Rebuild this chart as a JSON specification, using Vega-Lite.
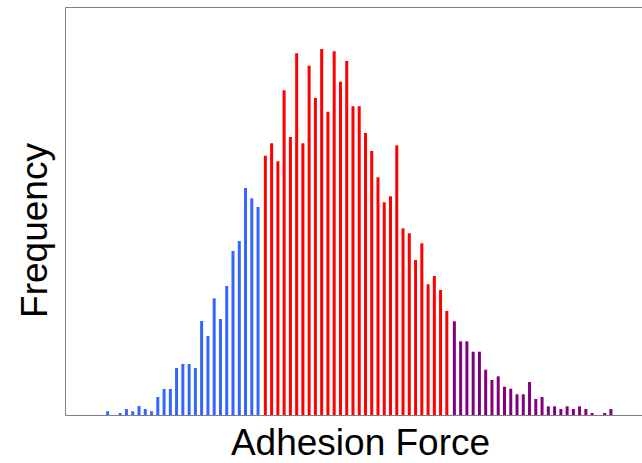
{
  "$schema": "https://vega.github.io/schema/vega-lite/v6.json",
  "autosize": "none",
  "padding": {"left": 65, "top": 7, "right": 0, "bottom": 48},
  "width": 590,
  "height": 408,
  "background": "white",
  "config": {
    "view": {"stroke": "#808080", "strokeWidth": 1},
    "font": "Liberation Sans"
  },
  "data": {
    "values": [
      {"force": 6.49, "freq": 3.7, "group": "low"},
      {"force": 7.58, "freq": 0, "group": "low"},
      {"force": 8.65, "freq": 2, "group": "low"},
      {"force": 9.73, "freq": 6, "group": "low"},
      {"force": 10.81, "freq": 3.7, "group": "low"},
      {"force": 11.90, "freq": 9, "group": "low"},
      {"force": 12.97, "freq": 6, "group": "low"},
      {"force": 14.05, "freq": 3.7, "group": "low"},
      {"force": 15.14, "freq": 18, "group": "low"},
      {"force": 16.22, "freq": 26, "group": "low"},
      {"force": 17.30, "freq": 26, "group": "low"},
      {"force": 18.37, "freq": 47, "group": "low"},
      {"force": 19.46, "freq": 51, "group": "low"},
      {"force": 20.54, "freq": 51, "group": "low"},
      {"force": 21.62, "freq": 47, "group": "low"},
      {"force": 22.69, "freq": 94, "group": "low"},
      {"force": 23.78, "freq": 79, "group": "low"},
      {"force": 24.86, "freq": 116.7, "group": "low"},
      {"force": 25.94, "freq": 96, "group": "low"},
      {"force": 27.02, "freq": 129, "group": "low"},
      {"force": 28.10, "freq": 164, "group": "low"},
      {"force": 29.19, "freq": 174, "group": "low"},
      {"force": 30.26, "freq": 227, "group": "low"},
      {"force": 31.34, "freq": 216.7, "group": "low"},
      {"force": 32.42, "freq": 208, "group": "low"},
      {"force": 33.68, "freq": 259.3, "group": "mid"},
      {"force": 34.76, "freq": 271.7, "group": "mid"},
      {"force": 35.84, "freq": 253.7, "group": "mid"},
      {"force": 36.92, "freq": 324.7, "group": "mid"},
      {"force": 38.00, "freq": 278, "group": "mid"},
      {"force": 39.08, "freq": 361.7, "group": "mid"},
      {"force": 40.15, "freq": 271.7, "group": "mid"},
      {"force": 41.23, "freq": 349.3, "group": "mid"},
      {"force": 42.31, "freq": 317, "group": "mid"},
      {"force": 43.39, "freq": 366, "group": "mid"},
      {"force": 44.47, "freq": 303.3, "group": "mid"},
      {"force": 45.55, "freq": 363.7, "group": "mid"},
      {"force": 46.63, "freq": 333.3, "group": "mid"},
      {"force": 47.71, "freq": 354, "group": "mid"},
      {"force": 48.79, "freq": 308.7, "group": "mid"},
      {"force": 49.87, "freq": 308.7, "group": "mid"},
      {"force": 50.95, "freq": 282, "group": "mid"},
      {"force": 52.02, "freq": 264, "group": "mid"},
      {"force": 53.10, "freq": 237.7, "group": "mid"},
      {"force": 54.18, "freq": 212.7, "group": "mid"},
      {"force": 55.26, "freq": 218.7, "group": "mid"},
      {"force": 56.34, "freq": 269.7, "group": "mid"},
      {"force": 57.42, "freq": 186.7, "group": "mid"},
      {"force": 58.50, "freq": 181.7, "group": "mid"},
      {"force": 59.58, "freq": 155, "group": "mid"},
      {"force": 60.66, "freq": 171.7, "group": "mid"},
      {"force": 61.74, "freq": 130.7, "group": "mid"},
      {"force": 62.82, "freq": 139, "group": "mid"},
      {"force": 63.89, "freq": 125, "group": "mid"},
      {"force": 64.97, "freq": 104, "group": "mid"},
      {"force": 66.27, "freq": 93.7, "group": "high"},
      {"force": 67.35, "freq": 73.7, "group": "high"},
      {"force": 68.43, "freq": 73.7, "group": "high"},
      {"force": 69.51, "freq": 63.3, "group": "high"},
      {"force": 70.59, "freq": 63.3, "group": "high"},
      {"force": 71.67, "freq": 45.3, "group": "high"},
      {"force": 72.75, "freq": 35, "group": "high"},
      {"force": 73.83, "freq": 38.7, "group": "high"},
      {"force": 74.91, "freq": 28.3, "group": "high"},
      {"force": 75.99, "freq": 26.3, "group": "high"},
      {"force": 77.07, "freq": 20.7, "group": "high"},
      {"force": 78.15, "freq": 20.7, "group": "high"},
      {"force": 79.23, "freq": 33, "group": "high"},
      {"force": 80.31, "freq": 16, "group": "high"},
      {"force": 81.39, "freq": 18, "group": "high"},
      {"force": 82.47, "freq": 8.7, "group": "high"},
      {"force": 83.55, "freq": 8.7, "group": "high"},
      {"force": 84.63, "freq": 6, "group": "high"},
      {"force": 85.71, "freq": 8.7, "group": "high"},
      {"force": 86.79, "freq": 6, "group": "high"},
      {"force": 87.86, "freq": 8.7, "group": "high"},
      {"force": 88.94, "freq": 6, "group": "high"},
      {"force": 90.02, "freq": 2, "group": "high"},
      {"force": 91.10, "freq": 0, "group": "high"},
      {"force": 92.18, "freq": 2, "group": "high"},
      {"force": 93.26, "freq": 6, "group": "high"}
    ]
  },
  "mark": {"type": "bar", "size": 3},
  "encoding": {
    "x": {
      "field": "force",
      "type": "quantitative",
      "scale": {"domain": [0, 100], "nice": false, "zero": false},
      "axis": {
        "title": "Adhesion Force",
        "titleFontSize": 37,
        "titleFontWeight": "normal",
        "titleColor": "black",
        "titleFont": "Liberation Sans",
        "titleX": 295,
        "titleY": 39,
        "titleAlign": "center",
        "titleBaseline": "alphabetic",
        "labels": false,
        "ticks": false,
        "grid": false,
        "domain": false
      }
    },
    "y": {
      "field": "freq",
      "type": "quantitative",
      "scale": {"domain": [0, 408], "nice": false},
      "axis": {
        "title": "Frequency",
        "titleFontSize": 37,
        "titleFontWeight": "normal",
        "titleColor": "black",
        "titleFont": "Liberation Sans",
        "titleAngle": -90,
        "titleX": -19,
        "titleY": 223,
        "titleAlign": "center",
        "titleBaseline": "alphabetic",
        "labels": false,
        "ticks": false,
        "grid": false,
        "domain": false
      }
    },
    "color": {
      "field": "group",
      "type": "nominal",
      "scale": {"domain": ["low", "mid", "high"], "range": ["#3366ff", "#ff0000", "#800080"]},
      "legend": null
    }
  }
}
